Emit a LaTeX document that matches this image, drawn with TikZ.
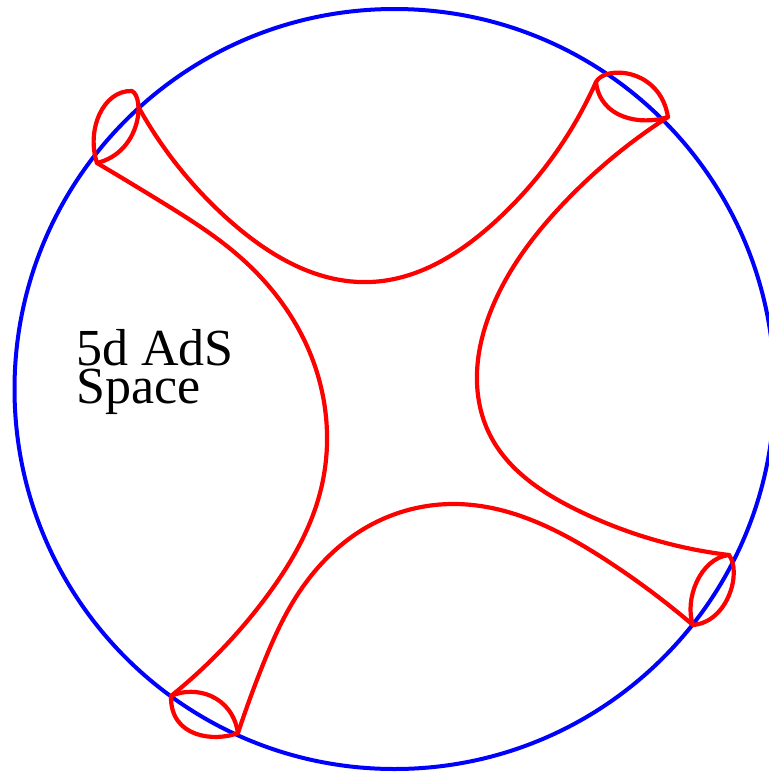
\documentclass[tikz,border=0pt]{standalone}
\usepackage{fontspec}
\setmainfont{Liberation Serif}
\newfontfamily\tms{Liberation Serif}
\usetikzlibrary{hobby}
\begin{document}
\begin{tikzpicture}[x=1pt,y=-1pt,
  geo/.style={draw=red, line width=4.2pt, line join=round, line cap=round},
  bnd/.style={draw=blue, line width=4pt},
  lbl/.style={anchor=base west, inner sep=0pt, align=left, font=\tms\fontsize{52}{38}\selectfont}]
\useasboundingbox (0,0) rectangle (769,772);
% boundary of AdS
\draw[bnd] (394.5,389) circle[radius=380pt];
% lens vertices
\coordinate (tlA) at (97,163);
\coordinate (tlB) at (132,91);
\coordinate (tlC) at (139,108);
\coordinate (trL) at (596,82);
\coordinate (trR) at (668,117);
\coordinate (rT) at (729,555);
\coordinate (rB) at (693,625);
\coordinate (bL) at (171,696);
\coordinate (bR) at (238,733);
% lenses
\draw[geo] (tlA) .. controls (86,130) and (103,90) .. (tlB)
  .. controls (145,98) and (141,152) .. (tlA);
\draw[geo] (trL) .. controls (605,65) and (660,68) .. (trR)
  .. controls (640,126) and (600,118) .. (trL);
\draw[geo] (rT) .. controls (742,572) and (728,622) .. (rB)
  .. controls (684,600) and (700,558) .. (rT);
\draw[geo] (bL) .. controls (195,685) and (232,695) .. (bR)
  .. controls (215,742) and (170,738) .. (bL);
% geodesics
\draw[geo] (tlC) to[curve through={(230,221) (370,282) (497,220)}] (trL);
\draw[geo] (trR) to[curve through={(562,205) (490,313) (477,373) (490,435) (577,510)}] (rT);
\draw[geo] (rB) to[curve through={(606,560) (456,504) (367,527) (296,597) (262,667)}] (bR);
\draw[geo] (bL) to[curve through={(267,596) (320,493) (327,443) (307,346) (240,257) (160,201)}] (tlA);
% label
\node[lbl] (t1) at (76,403) {5d AdS\\Space};
\end{tikzpicture}
\end{document}
